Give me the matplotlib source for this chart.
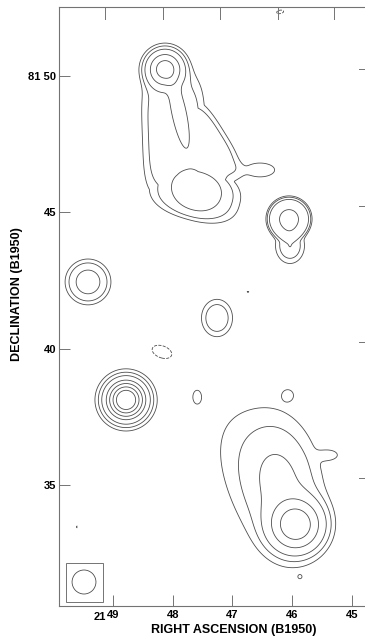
import numpy as np
import matplotlib.pyplot as plt
from matplotlib.patches import Rectangle, Ellipse

# source components (RA in min of time after 21h, Dec in arcmin after 81 deg)
# ra, dec, amplitude (units of the lowest contour), a, b (arcmin), angle (deg),
# radial exponent p, box exponent m, plateau flag (plateaus are merged with max)
comp_ra = [48.129, 47.978, 47.626, 47.452, 47.894, 47.600, 46.538,
           46.052, 46.052, 46.035,
           49.419, 47.258, 48.782,
           47.593, 46.069, 46.739, 45.868,
           48.179, 49.603, 46.200,
           45.935, 46.169, 45.365, 46.620]
comp_dec = [50.257, 47.800, 45.710, 47.546, 48.650, 45.820, 46.553,
            44.756, 44.756, 43.770,
            42.446, 41.126, 38.119,
            38.230, 38.300, 42.080, 31.630,
            39.879, 33.460, 52.350,
            33.535, 35.000, 36.100, 35.600]
comp_amp = [28, 2.6, 2.6, 2.6, 2.6, 3.0, 1.8,
            6, 8, 4,
            5, 3, 563,
            1.3, 1.3, 1.05, 1.05,
            -1.5, -1.05, -1.2,
            30, 4.0, 1.3, 1.5]
comp_a = [0.52, 1.17, 1.70, 1.75, 0.30, 1.02, 0.7,
          0.78, 0.41, 0.45,
          0.717, 0.55, 0.18,
          0.22, 0.25, 0.15, 0.1,
          0.6, 0.12, 0.3,
          0.75, 1.2, 0.4, 1.5]
comp_b = [0.52, 2.3, 1.0, 0.8, 1.50, 0.82, 0.33,
          0.78, 0.41, 0.55,
          0.717, 0.66, 0.18,
          0.35, 0.25, 0.08, 0.1,
          0.35, 0.15, 0.15,
          0.75, 2.1, 0.22, 2.6]
comp_ang = [0, 2, -15, -58, 12, -20, 0,
            0, 0, 0,
            0, 0, 0,
            0, 0, 0, 0,
            -20, 0, 10,
            0, 6, 0, 25]
comp_p = [2, 6, 6, 6, 4, 4, 2,
          8, 2, 2,
          3, 3, 1,
          2, 2, 2, 2,
          2, 2, 2,
          2, 2, 2, 2]
comp_m = [2, 4, 2.5, 3, 2, 2, 2,
          2, 2, 2,
          2, 2, 2,
          2, 2, 2, 2,
          2, 2, 2,
          2, 2, 2, 2]
comp_plateau = [0, 1, 1, 1, 0, 0, 0,
                1, 0, 0,
                0, 0, 0,
                0, 0, 0, 0,
                0, 0, 0,
                0, 0, 0, 0]

levels_pos = [1, 2, 4, 10, 20, 40, 80]
levels_neg = [-1]

bottom_ticks = [49, 48, 47, 46, 45]
bottom_labels = ['49', '48', '47', '46', '45']
left_ticks = [50, 45, 40, 35]
left_labels = ['81 50', '45', '40', '35']
top_ticks = [49.13, 48.16, 47.21, 46.24, 45.30]
right_ticks = [50.26, 45.23, 40.25, 35.26]

KX = 59.7 / 27.27  # arcmin per minute of RA on the plot

ra = np.linspace(50.0, 44.6, 500)
dec = np.linspace(30.3, 52.8, 900)
R, D = np.meshgrid(ra, dec)
Z = np.zeros_like(R)
P = np.zeros_like(R)
for i in range(len(comp_ra)):
    dx = (comp_ra[i] - R) * KX
    dy = D - comp_dec[i]
    t = np.radians(comp_ang[i])
    u = dx * np.cos(t) + dy * np.sin(t)
    v = -dx * np.sin(t) + dy * np.cos(t)
    m = comp_m[i]
    q = (np.abs(u / comp_a[i])**m + np.abs(v / comp_b[i])**m)**(1.0 / m)
    g = comp_amp[i] * np.exp(-q**comp_p[i])
    if comp_plateau[i]:
        P = np.maximum(P, g)
    else:
        Z += g
Z += P

plt.rcParams['font.family'] = ['Liberation Sans', 'DejaVu Sans']
fig = plt.figure(figsize=(3.65, 6.37), dpi=100)
ax = fig.add_axes([59/365, 31/637, 308/365, 599/637])

ax.contour(R, D, Z, levels=levels_pos, colors='0.3', linewidths=0.6)
ax.contour(R, D, Z, levels=levels_neg, colors='0.3', linewidths=0.6, linestyles='dashed')

# beam
ax.add_patch(Rectangle((49.787, 30.71), 49.167 - 49.787, 32.14 - 30.71,
                       fill=False, ec='0.45', lw=0.7))
ax.add_patch(Ellipse((49.486, 31.44), 0.40, 0.88, fill=False, ec='0.3', lw=0.6))

ax.set_xlim(49.905, 44.745)
ax.set_ylim(30.56, 52.53)

ax.set_xticks(bottom_ticks)
ax.set_xticklabels(bottom_labels)
ax.set_yticks(left_ticks)
ax.set_yticklabels(left_labels)
ax.tick_params(axis='x', direction='in', length=8, width=0.7, color='0.45',
               labelsize=8, pad=3)
ax.tick_params(axis='y', direction='in', length=8, width=0.7, color='0.45',
               labelsize=8, pad=2)
for lab in ax.get_xticklabels() + ax.get_yticklabels():
    lab.set_fontweight('bold')
for s in ax.spines.values():
    s.set_color('0.45')
    s.set_linewidth(0.8)

# top and right ticks follow the curved coordinate grid
for t in top_ticks:
    ax.plot([t, t], [52.53, 52.1], color='0.45', lw=0.7, clip_on=False)
for t in right_ticks:
    ax.plot([44.745, 44.88], [t, t], color='0.45', lw=0.7, clip_on=False)

fig.text(100/365, 1 - 617/637, '21', ha='center', va='center', fontsize=8,
         fontweight='bold')
fig.text(234/365, 1 - 630/637, 'RIGHT ASCENSION (B1950)', ha='center', va='center',
         fontsize=9, fontweight='bold')
fig.text(17/365, 1 - 294/637, 'DECLINATION (B1950)', ha='center', va='center',
         rotation=90, fontsize=9, fontweight='bold')

fig.savefig('out.png', dpi=100)
